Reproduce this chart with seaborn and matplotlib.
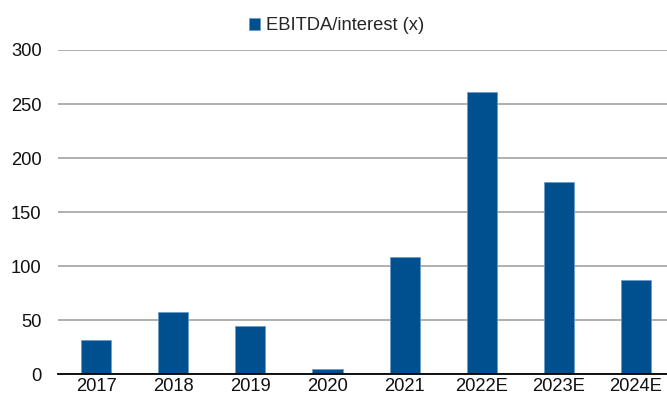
import matplotlib
matplotlib.use("Agg")
import matplotlib.pyplot as plt
import seaborn as sns
import pandas as pd

years = ["2017", "2018", "2019", "2020", "2021", "2022E", "2023E", "2024E"]
ebitda_interest = [31.5, 57.9, 44.4, 5.2, 108.2, 261.4, 177.9, 87.0]
y_ticks = [0, 50, 100, 150, 200, 250, 300]
series_name = "EBITDA/interest (x)"

sns.set_theme(style="white")
plt.rcParams["font.family"] = ["Liberation Sans", "DejaVu Sans"]

df = pd.DataFrame({"year": years, "value": ebitda_interest})

fig = plt.figure(figsize=(6.67, 3.94), dpi=100)
ax = fig.add_axes([57.5 / 667, 1 - 374.3 / 394, (674.6 - 57.5) / 667, (374.3 - 50) / 394])

sns.barplot(data=df, x="year", y="value", color="#004F8F", saturation=1,
            width=0.39, edgecolor="#6d9cc8", linewidth=0.6,
            label=series_name, ax=ax, zorder=3)

ax.set_ylim(0, 300)
ax.set_yticks(y_ticks)
ax.yaxis.grid(True, color="#9a9a9a", linewidth=1.1, zorder=0)
ax.xaxis.grid(False)
ax.set_axisbelow(True)
ax.set_xlabel("")
ax.set_ylabel("")

for side in ["left", "right", "top"]:
    ax.spines[side].set_visible(False)
ax.spines["bottom"].set_color("black")
ax.spines["bottom"].set_linewidth(1.3)
ax.spines["bottom"].set_zorder(4)

ax.tick_params(axis="y", length=0, pad=11.5, labelsize=13.2, labelcolor="#111111")
ax.tick_params(axis="x", length=0, pad=3, labelsize=13.2, labelcolor="#111111")

ax.legend(loc="center left", bbox_to_anchor=(249 / 667, 1 - 26 / 394),
          bbox_transform=fig.transFigure, frameon=False, fontsize=13.2,
          handlelength=0.6, handleheight=0.55, handletextpad=0.3,
          borderpad=0, borderaxespad=0)

fig.savefig("out.png", dpi=100)
